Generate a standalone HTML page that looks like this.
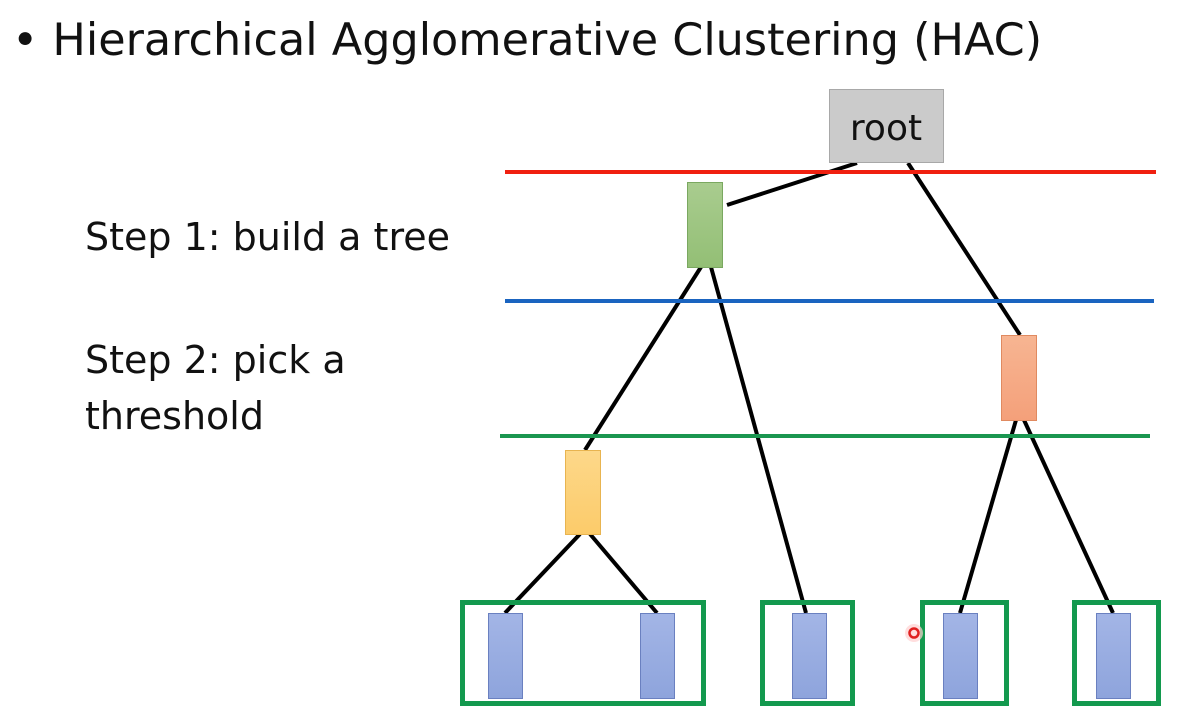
<!DOCTYPE html>
<html><head><meta charset="utf-8"><style>
html,body{margin:0;padding:0;background:#fff;width:1202px;height:713px;overflow:hidden}
svg{display:block}
text{font-family:"DejaVu Sans","Liberation Sans",sans-serif;fill:#111}
</style></head><body>
<svg width="1202" height="713" viewBox="0 0 1202 713">
<defs>
<linearGradient id="gg" x1="0" y1="0" x2="0" y2="1"><stop offset="0" stop-color="#a9cc8f"/><stop offset="1" stop-color="#93bf75"/></linearGradient>
<linearGradient id="go" x1="0" y1="0" x2="0" y2="1"><stop offset="0" stop-color="#f7b592"/><stop offset="1" stop-color="#f4a07a"/></linearGradient>
<linearGradient id="gy" x1="0" y1="0" x2="0" y2="1"><stop offset="0" stop-color="#fdd88a"/><stop offset="1" stop-color="#fccb6a"/></linearGradient>
<linearGradient id="gb" x1="0" y1="0" x2="0" y2="1"><stop offset="0" stop-color="#a3b5e6"/><stop offset="1" stop-color="#8ea4dc"/></linearGradient>
</defs>
<text x="12" y="55" font-size="44.5">• Hierarchical Agglomerative Clustering (HAC)</text>
<text x="85" y="250" font-size="38">Step 1: build a tree</text>
<text x="85" y="373" font-size="38">Step 2: pick a</text>
<text x="85" y="429" font-size="38">threshold</text>

<g stroke="#000" stroke-width="4" fill="none">
<line x1="857" y1="163" x2="727" y2="205"/>
<line x1="908" y1="163" x2="1020" y2="335"/>
<line x1="701" y1="267" x2="585" y2="450"/>
<line x1="711" y1="267" x2="806" y2="613"/>
<line x1="580" y1="534" x2="505" y2="613"/>
<line x1="590" y1="534" x2="657" y2="613"/>
<line x1="1016" y1="420" x2="960" y2="613"/>
<line x1="1024" y1="420" x2="1113" y2="613"/>
</g>

<line x1="505" y1="172" x2="1156" y2="172" stroke="#f02010" stroke-width="4"/>
<line x1="505" y1="301" x2="1154" y2="301" stroke="#1a64c0" stroke-width="4"/>
<line x1="500" y1="436" x2="1150" y2="436" stroke="#1a9650" stroke-width="4"/>

<rect x="829.5" y="89.5" width="114" height="73" fill="#cbcbcb" stroke="#a8a8a8"/>
<text x="886" y="140" font-size="36" text-anchor="middle">root</text>

<rect x="687.5" y="182.5" width="35" height="85" fill="url(#gg)" stroke="#7aa860"/>
<rect x="1001.5" y="335.5" width="35" height="85" fill="url(#go)" stroke="#e08a60"/>
<rect x="565.5" y="450.5" width="35" height="84" fill="url(#gy)" stroke="#e8b450"/>

<g fill="none" stroke="#13994e" stroke-width="5">
<rect x="462.5" y="602.5" width="241" height="101"/>
<rect x="762.5" y="602.5" width="90" height="101"/>
<rect x="922.5" y="602.5" width="84" height="101"/>
<rect x="1074.5" y="602.5" width="84" height="101"/>
</g>
<g fill="url(#gb)" stroke="#6a80c0">
<rect x="488.5" y="613.5" width="34" height="85"/>
<rect x="640.5" y="613.5" width="34" height="85"/>
<rect x="792.5" y="613.5" width="34" height="85"/>
<rect x="943.5" y="613.5" width="34" height="85"/>
<rect x="1096.5" y="613.5" width="34" height="85"/>
</g>
<circle cx="914" cy="633" r="9" fill="#ffd0d0" opacity="0.7"/>
<circle cx="914" cy="633" r="4.5" fill="none" stroke="#e02020" stroke-width="2.5"/>
</svg>
</body></html>
